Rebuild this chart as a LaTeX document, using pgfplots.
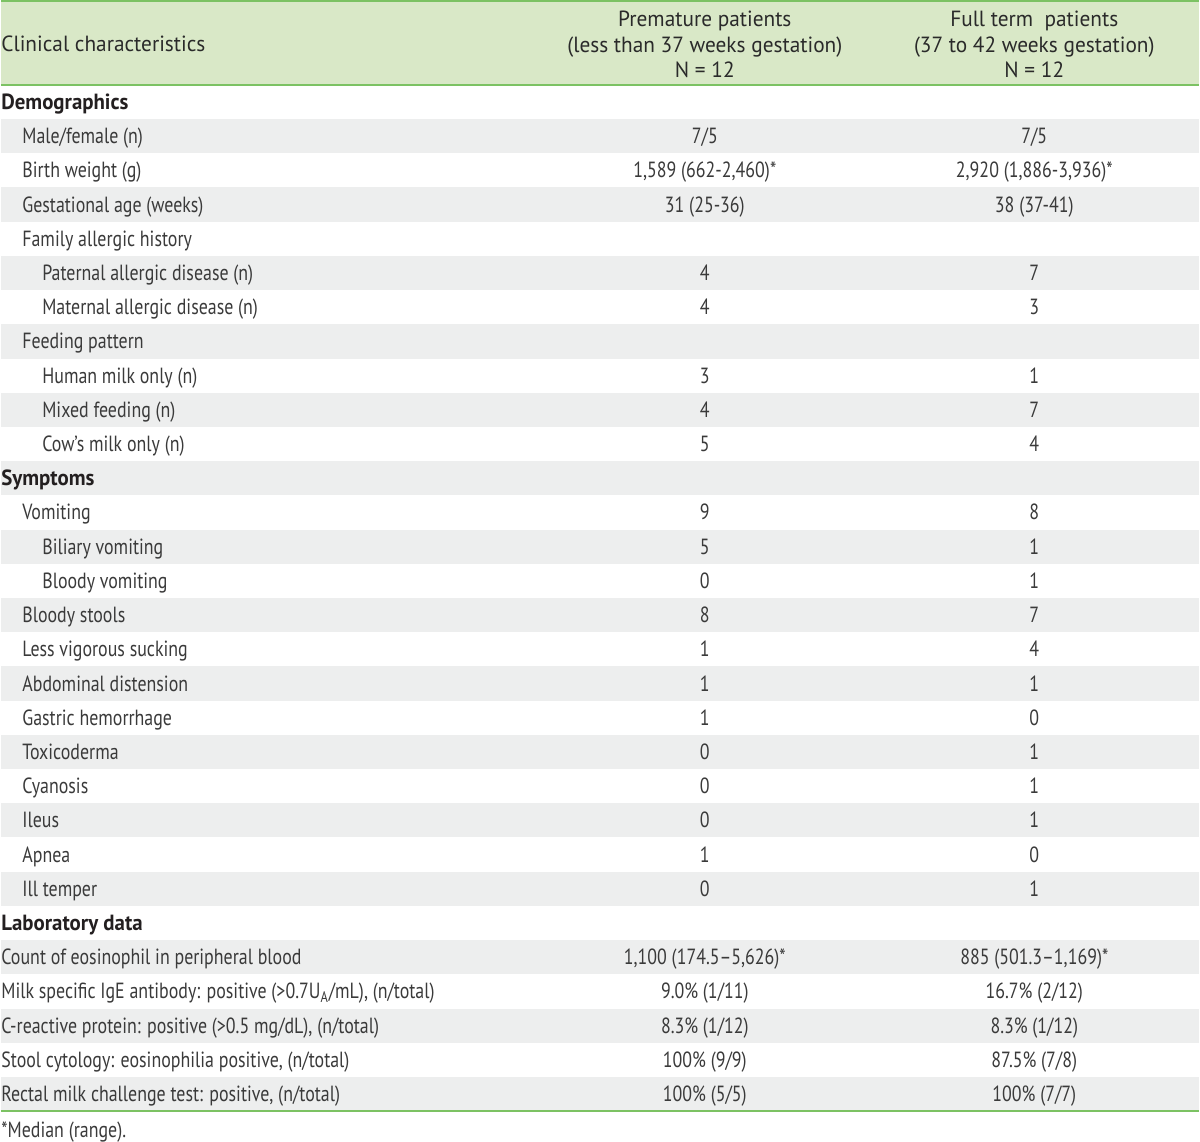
\documentclass[border=0pt]{standalone}
\usepackage{pgfplots}
\pgfplotsset{compat=1.18}
\usepackage{fontspec}
\setmainfont{PT Sans}
\newfontfamily\hdrfont[FakeStretch=0.97,Ligatures=TeX]{PT Sans}
\newfontfamily\bodyfont[FakeStretch=0.815,Ligatures=TeX]{PT Sans}
\newfontfamily\secfont[FakeStretch=0.95,Ligatures=TeX,BoldFont={PT Sans Bold}]{PT Sans}
\definecolor{hdrgreen}{HTML}{D9E8C7}
\definecolor{linegreen}{HTML}{7CC263}
\definecolor{rowgray}{HTML}{EDEEEE}
\definecolor{txtc}{HTML}{3A3A3A}
\definecolor{hdrc}{HTML}{2A2A2A}
\definecolor{boldc}{HTML}{231F20}
\newcommand\fs{\fontsize{11pt}{13pt}\selectfont}
\newcommand\rowtext[5]{%
 \node[anchor=base west,inner sep=0pt,text=txtc,font=\bodyfont\fs] at (axis cs:#2,{92.5+(#1+0.5)*34.2667}) {#3};
 \node[anchor=base,inner sep=0pt,text=txtc,font=\bodyfont\fs] at (axis cs:705,{92.5+(#1+0.5)*34.2667}) {#4};
 \node[anchor=base,inner sep=0pt,text=txtc,font=\bodyfont\fs] at (axis cs:1035,{92.5+(#1+0.5)*34.2667}) {#5};}
\newcommand\sectext[2]{%
 \node[anchor=base west,inner sep=0pt,text=boldc,font=\secfont\fs\bfseries] at (axis cs:0,{92.5+(#1+0.5)*34.2667}) {#2};}
\newcommand\grayrow[2]{\addplot[fill=rowgray,draw=none] coordinates {(0,#1) (1200,#1) (1200,#2) (0,#2)} -- cycle;}
\begin{document}
\begin{tikzpicture}
\begin{axis}[scale only axis, width=600pt, height=572pt,
  xmin=0, xmax=1200, ymin=0, ymax=1144, y dir=reverse,
  hide axis, clip=false]
% header
\addplot[fill=hdrgreen,draw=none] coordinates {(0,1) (1200,1) (1200,85) (0,85)} -- cycle;
\grayrow{119.27}{153.53}
\grayrow{187.80}{222.07}
\grayrow{256.33}{290.60}
\grayrow{324.87}{359.13}
\grayrow{393.40}{427.67}
\grayrow{461.93}{496.20}
\grayrow{530.47}{564.73}
\grayrow{599.00}{633.27}
\grayrow{667.53}{701.80}
\grayrow{736.07}{770.33}
\grayrow{804.60}{838.87}
\grayrow{873.13}{907.40}
\grayrow{941.67}{975.93}
\grayrow{1010.20}{1044.47}
\grayrow{1078.73}{1113.00}
\addplot[linegreen,line width=1pt] coordinates {(0,1) (1200,1)};
\addplot[linegreen,line width=1pt] coordinates {(0,85) (1200,85)};
\addplot[linegreen,line width=0.75pt] coordinates {(0,1113) (1200,1113)};
% header text
\node[anchor=base west,inner sep=0pt,text=hdrc,font=\hdrfont\fs] at (axis cs:0,51.5) {Clinical characteristics};
\node[anchor=base,inner sep=0pt,text=hdrc,font=\hdrfont\fs] at (axis cs:705,26.7) {Premature patients};
\node[anchor=base,inner sep=0pt,text=hdrc,font=\hdrfont\fs] at (axis cs:705,52.7) {(less than 37 weeks gestation)};
\node[anchor=base,inner sep=0pt,text=hdrc,font=\hdrfont\fs] at (axis cs:705,78.0) {N = 12};
\node[anchor=base,inner sep=0pt,text=hdrc,font=\hdrfont\fs] at (axis cs:1035,26.7) {Full term\ \ patients};
\node[anchor=base,inner sep=0pt,text=hdrc,font=\hdrfont\fs] at (axis cs:1035,52.7) {(37 to 42 weeks gestation)};
\node[anchor=base,inner sep=0pt,text=hdrc,font=\hdrfont\fs] at (axis cs:1035,78.0) {N = 12};
% body
\sectext{0}{Demographics}
\rowtext{1}{21}{Male/female (n)}{7/5}{7/5}
\rowtext{2}{21}{Birth weight (g)}{1,589 (662-2,460)*}{2,920 (1,886-3,936)*}
\rowtext{3}{21}{Gestational age (weeks)}{31 (25-36)}{38 (37-41)}
\rowtext{4}{21}{Family allergic history}{}{}
\rowtext{5}{41}{Paternal allergic disease (n)}{4}{7}
\rowtext{6}{41}{Maternal allergic disease (n)}{4}{3}
\rowtext{7}{21}{Feeding pattern}{}{}
\rowtext{8}{41}{Human milk only (n)}{3}{1}
\rowtext{9}{41}{Mixed feeding (n)}{4}{7}
\rowtext{10}{41}{Cow’s milk only (n)}{5}{4}
\sectext{11}{Symptoms}
\rowtext{12}{21}{Vomiting}{9}{8}
\rowtext{13}{41}{Biliary vomiting}{5}{1}
\rowtext{14}{41}{Bloody vomiting}{0}{1}
\rowtext{15}{21}{Bloody stools}{8}{7}
\rowtext{16}{21}{Less vigorous sucking}{1}{4}
\rowtext{17}{21}{Abdominal distension}{1}{1}
\rowtext{18}{21}{Gastric hemorrhage}{1}{0}
\rowtext{19}{21}{Toxicoderma}{0}{1}
\rowtext{20}{21}{Cyanosis}{0}{1}
\rowtext{21}{21}{Ileus}{0}{1}
\rowtext{22}{21}{Apnea}{1}{0}
\rowtext{23}{21}{Ill temper}{0}{1}
\sectext{24}{Laboratory data}
\rowtext{25}{0}{Count of eosinophil in peripheral blood}{1,100 (174.5–5,626)*}{885 (501.3–1,169)*}
\rowtext{26}{0}{Milk specific IgE antibody: positive (>0.7U\textsubscript{A}/mL), (n/total)}{9.0\% (1/11)}{16.7\% (2/12)}
\rowtext{27}{0}{C-reactive protein: positive (>0.5 mg/dL), (n/total)}{8.3\% (1/12)}{8.3\% (1/12)}
\rowtext{28}{0}{Stool cytology: eosinophilia positive, (n/total)}{100\% (9/9)}{87.5\% (7/8)}
\rowtext{29}{0}{Rectal milk challenge test: positive, (n/total)}{100\% (5/5)}{100\% (7/7)}
\node[anchor=base west,inner sep=0pt,text=txtc,font=\bodyfont\fs] at (axis cs:0,1139) {*Median (range).};
\end{axis}
\end{tikzpicture}
\end{document}
